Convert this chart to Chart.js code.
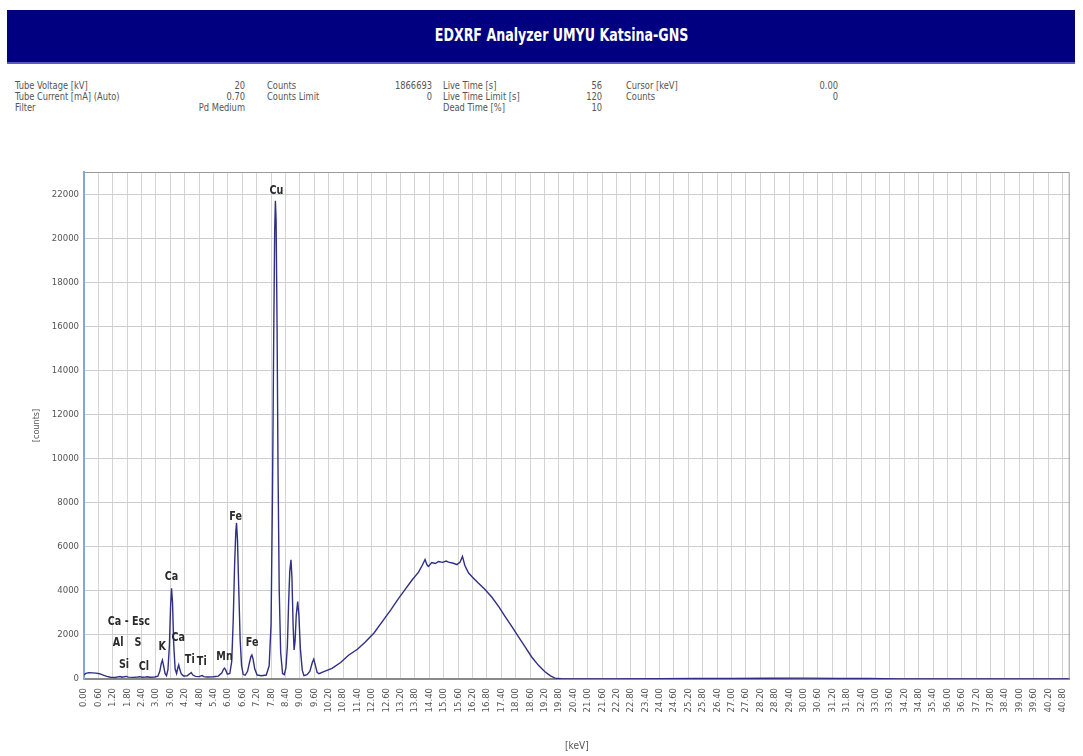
<!DOCTYPE html>
<html>
<head>
<meta charset="utf-8">
<script src="https://cdn.jsdelivr.net/npm/chart.js@4.4.1/dist/chart.umd.min.js"></script>
<style>
  html, body { margin: 0; padding: 0; background: #fff; width: 1083px; height: 756px; overflow: hidden; }
  .narrow { font-family: "Liberation Sans Narrow", "DejaVu Sans Condensed", "Arial Narrow", sans-serif; }
  #banner { position: absolute; left: 7px; top: 10px; width: 1068px; height: 52px; background: #000080; border-bottom: 2px solid #5a5ab8; }
  #title { position: absolute; left: -7px; width: 1124px; top: 14px; text-align: center; color: #fff; font-weight: bold; font-size: 18px; }
  #title span { display: inline-block; transform: scaleX(0.78); }
  .info { position: absolute; font-size: 10.5px; color: #555; line-height: 11px; white-space: nowrap; transform: scaleX(0.88); transform-origin: left top; }
  .r { text-align: right; transform-origin: right top; }
  #chartWrap { position: absolute; left: 0; top: 150px; width: 1083px; height: 606px; }
</style>
</head>
<body>
<div id="banner" class="narrow"><div id="title"><span>EDXRF Analyzer UMYU Katsina-GNS</span></div></div>

<div class="info narrow" style="left:15px; top:80px;">Tube Voltage [kV]<br>Tube Current [mA] (Auto)<br>Filter</div>
<div class="info narrow r" style="left:145px; width:100px; top:80px;">20<br>0.70<br>Pd Medium</div>
<div class="info narrow" style="left:267px; top:80px;">Counts<br>Counts Limit</div>
<div class="info narrow r" style="left:332px; width:100px; top:80px;">1866693<br>0</div>
<div class="info narrow" style="left:443px; top:80px;">Live Time [s]<br>Live Time Limit [s]<br>Dead Time [%]</div>
<div class="info narrow r" style="left:500px; width:102px; top:80px;">56<br>120<br>10</div>
<div class="info narrow" style="left:626px; top:80px;">Cursor [keV]<br>Counts</div>
<div class="info narrow r" style="left:738px; width:100px; top:80px;">0.00<br>0</div>

<div id="chartWrap"><canvas id="c" width="1083" height="606"></canvas></div>

<script>
// ---- Data ----
const energyKeV = [
  0.00, 0.08, 0.20, 0.35, 0.50, 0.65, 0.80, 0.95, 1.10, 1.30,
  1.42, 1.50, 1.58, 1.68, 1.76, 1.85, 2.05, 2.25, 2.33, 2.42,
  2.55, 2.64, 2.75, 2.95, 3.08, 3.16, 3.22, 3.27, 3.32, 3.38,
  3.44, 3.50, 3.56, 3.61, 3.65, 3.69, 3.74, 3.80, 3.86, 3.91,
  3.95, 3.99, 4.06, 4.15, 4.30, 4.40, 4.47, 4.54, 4.65, 4.80,
  4.88, 4.93, 4.99, 5.15, 5.40, 5.60, 5.75, 5.82, 5.86, 5.91,
  5.98, 6.08, 6.16, 6.22, 6.28, 6.33, 6.36, 6.40, 6.45, 6.51,
  6.57, 6.64, 6.72, 6.82, 6.90, 6.96, 7.00, 7.05, 7.12, 7.22,
  7.40, 7.60, 7.72, 7.80, 7.86, 7.91, 7.95, 7.98, 8.01, 8.05,
  8.09, 8.14, 8.20, 8.28, 8.35, 8.42, 8.48, 8.53, 8.58, 8.63,
  8.67, 8.72, 8.76, 8.80, 8.85, 8.91, 8.96, 9.02, 9.10, 9.17,
  9.30, 9.42, 9.52, 9.58, 9.64, 9.72, 9.80, 10.00, 10.34, 10.70,
  11.03, 11.40, 11.73, 12.10, 12.42, 12.80, 13.11, 13.40, 13.67, 13.95,
  14.10, 14.22, 14.30, 14.36, 14.50, 14.65, 14.78, 14.95, 15.10, 15.20,
  15.40, 15.55, 15.68, 15.78, 15.88, 16.03, 16.20, 16.44, 16.70, 17.00,
  17.30, 17.56, 17.85, 18.11, 18.40, 18.66, 18.95, 19.22, 19.45, 19.64,
  19.90, 20.50, 22.00, 24.00, 25.50, 27.00, 28.50, 30.00, 31.50, 32.70,
  34.00, 36.00, 41.10
];
const counts = [
  180, 260, 290, 280, 265, 240, 180, 120, 80, 70,
  95, 110, 80, 100, 120, 85, 75, 90, 105, 80,
  85, 100, 80, 90, 130, 350, 700, 860, 600, 250,
  150, 420, 1500, 3300, 4120, 3500, 1600, 450, 250, 500,
  640, 450, 220, 140, 150, 230, 290, 180, 120, 110,
  140, 160, 110, 90, 100, 130, 280, 450, 490, 400,
  220, 250, 800, 2600, 5200, 6700, 7080, 6300, 4200, 1800,
  600, 200, 170, 350, 750, 1020, 1090, 900, 450, 180,
  150, 180, 600, 2500, 8500, 15500, 20300, 21700, 20800, 16000,
  9500, 4000, 1200, 250, 200, 500, 1500, 3400, 4900, 5410,
  4600, 2400, 1320, 1700, 2900, 3510, 2900, 1400, 400, 150,
  200, 350, 750, 900, 650, 300, 240, 330, 480, 750,
  1080, 1350, 1680, 2100, 2580, 3150, 3650, 4080, 4480, 4850,
  5150, 5420, 5180, 5110, 5280, 5240, 5330, 5290, 5350, 5300,
  5250, 5190, 5300, 5560, 5150, 4820, 4620, 4350, 4080, 3720,
  3270, 2830, 2360, 1920, 1450, 1010, 620, 330, 140, 40,
  10, 5, 5, 15, 20, 25, 35, 40, 30, 20,
  5, 0, 0
];

// Peak labels: text, energy (keV), count level where the label sits
const peakLabelText = ['Ca - Esc', 'Al', 'S', 'K', 'Si', 'Cl', 'Ca', 'Ca', 'Ti', 'Ti', 'Mn', 'Fe', 'Fe', 'Cu'];
const peakLabelKeV  = [1.87, 1.42, 2.25, 3.26, 1.67, 2.50, 3.65, 3.93, 4.41, 4.91, 5.86, 6.32, 7.01, 8.02];
const peakLabelCnt  = [2600, 1640, 1640, 1470, 640, 560, 4650, 1860, 860, 770, 1010, 7380, 1640, 22150];

// Tick labels
const xTickLabels = [
  '0.00','0.60','1.20','1.80','2.40','3.00','3.60','4.20','4.80','5.40',
  '6.00','6.60','7.20','7.80','8.40','9.00','9.60','10.20','10.80','11.40',
  '12.00','12.60','13.20','13.80','14.40','15.00','15.60','16.20','16.80','17.40',
  '18.00','18.60','19.20','19.80','20.40','21.00','21.60','22.20','22.80','23.40',
  '24.00','24.60','25.20','25.80','26.40','27.00','27.60','28.20','28.80','29.40',
  '30.00','30.60','31.20','31.80','32.40','33.00','33.60','34.20','34.80','35.40',
  '36.00','36.60','37.20','37.80','38.40','39.00','39.60','40.20','40.80'
];
const yTickValues = [0, 2000, 4000, 6000, 8000, 10000, 12000, 14000, 16000, 18000, 20000, 22000];

const FONT = '"Liberation Sans Narrow", "DejaVu Sans Condensed", "Arial Narrow", sans-serif';

const points = energyKeV.map((e, i) => ({ x: e, y: counts[i] }));

const peakLabelsPlugin = {
  id: 'peakLabels',
  afterDatasetsDraw(chart) {
    const { ctx, scales: { x, y } } = chart;
    ctx.save();
    ctx.font = 'bold 13px ' + FONT;
    ctx.fillStyle = '#2a2a2a';
    ctx.textAlign = 'center';
    ctx.textBaseline = 'middle';
    peakLabelText.forEach((t, i) => {
      const px = x.getPixelForValue(peakLabelKeV[i]);
      const py = y.getPixelForValue(peakLabelCnt[i]);
      ctx.save();
      ctx.translate(px, py);
      ctx.scale(0.82, 1);
      ctx.fillText(t, 0, 0);
      ctx.restore();
    });
    ctx.restore();
  },
  afterDraw(chart) {
    const { ctx, chartArea: a } = chart;
    ctx.save();
    ctx.strokeStyle = '#9a9a9a';
    ctx.lineWidth = 1;
    ctx.beginPath();
    ctx.moveTo(a.left, a.top + 0.5);
    ctx.lineTo(a.right - 0.5, a.top + 0.5);
    ctx.lineTo(a.right - 0.5, a.bottom);
    ctx.stroke();
    ctx.restore();
  }
};

new Chart(document.getElementById('c'), {
  type: 'scatter',
  data: {
    datasets: [{
      data: points,
      showLine: true,
      borderColor: '#2f2f85',
      borderWidth: 1.4,
      pointRadius: 0,
      tension: 0
    }]
  },
  options: {
    responsive: false,
    animation: false,
    layout: { padding: { top: 22, right: 11, left: 0, bottom: 0 } },
    plugins: { legend: { display: false }, tooltip: { enabled: false } },
    scales: {
      x: {
        type: 'linear',
        min: 0,
        max: 41.1,
        afterBuildTicks(scale) { scale.ticks = xTickLabels.map(s => ({ value: parseFloat(s) })); },
        afterFit(scale) { scale.height = 77; },
        ticks: {
          autoSkip: false,
          minRotation: 90,
          maxRotation: 90,
          padding: 9,
          color: '#555',
          font: { family: FONT, size: 9.5 },
          callback: (v, i) => xTickLabels[i]
        },
        grid: { color: '#d4d4d4', lineWidth: 1, drawTicks: false },
        border: { color: '#8a8a8a', width: 2 },
        title: { display: true, text: '[keV]', color: '#555', font: { family: FONT, size: 10 }, padding: { top: 0, bottom: 4 } }
      },
      y: {
        min: 0,
        max: 23000,
        afterBuildTicks(scale) { scale.ticks = yTickValues.map(v => ({ value: v })); },
        afterFit(scale) { scale.width = 84; },
        ticks: {
          padding: 5,
          color: '#555',
          font: { family: FONT, size: 9.5 },
          callback: (v) => String(v)
        },
        grid: { color: '#cdcdcd', lineWidth: 1, drawTicks: false },
        border: { color: '#7fa9d9', width: 2 },
        title: { display: true, text: '[counts]', color: '#555', font: { family: FONT, size: 9 }, padding: { top: 31, bottom: 0 } }
      }
    }
  },
  plugins: [peakLabelsPlugin]
});
</script>
</body>
</html>
